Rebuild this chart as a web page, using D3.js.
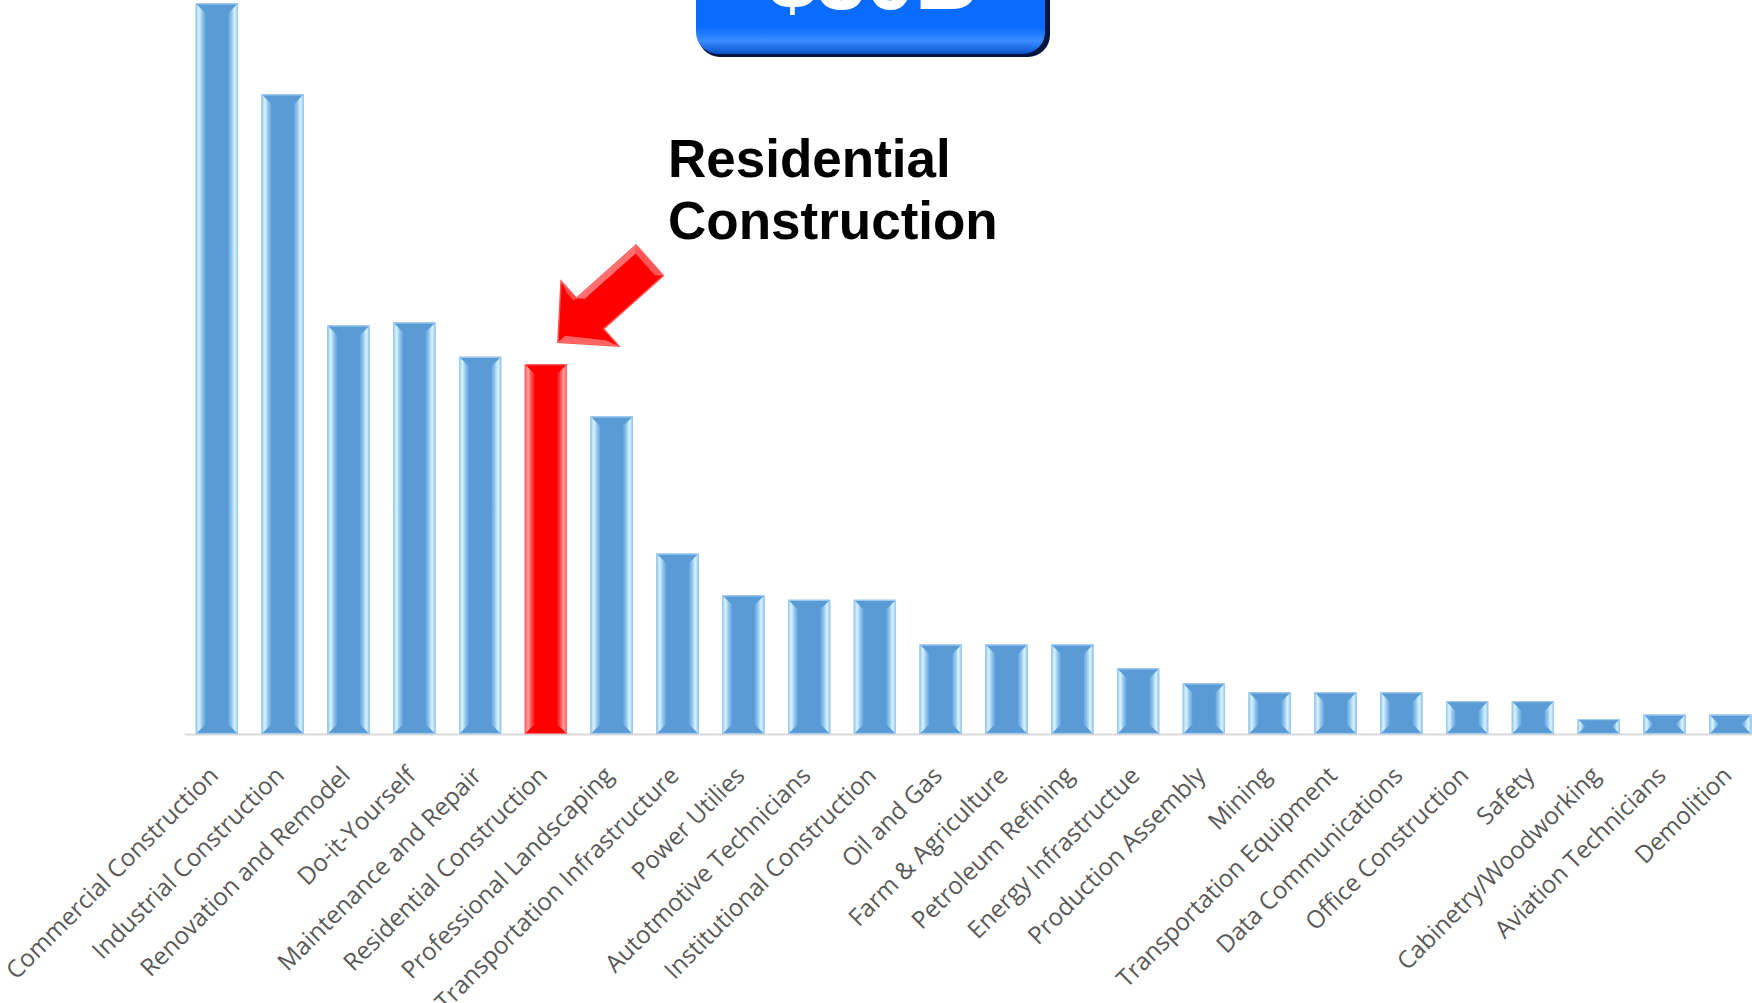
<!DOCTYPE html>
<html>
<head>
<meta charset="utf-8">
<script src="https://cdn.jsdelivr.net/npm/d3@7"></script>
<style>
  html, body { margin: 0; padding: 0; background: #ffffff; }
  svg { display: block; }
</style>
</head>
<body>
<svg id="chart" width="1752" height="1003"></svg>
<script>
// ---- data ----
const categories = [
  "Commercial Construction", "Industrial Construction", "Renovation and Remodel",
  "Do-it-Yourself", "Maintenance and Repair", "Residential Construction",
  "Professional Landscaping", "Transportation Infrastructure", "Power Utilies",
  "Autotmotive Technicians", "Institutional Construction", "Oil and Gas",
  "Farm & Agriculture", "Petroleum Refining", "Energy Infrastructue",
  "Production Assembly", "Mining", "Transportation Equipment",
  "Data Communications", "Office Construction", "Safety",
  "Cabinetry/Woodworking", "Aviation Technicians", "Demolition"
];
const values = [
  4.90, 4.29, 2.74, 2.76, 2.53, 2.48,
  2.13, 1.21, 0.93, 0.90, 0.90, 0.60,
  0.60, 0.60, 0.44, 0.34, 0.28, 0.28,
  0.28, 0.22, 0.22, 0.10, 0.13, 0.13
];
const highlighted = "Residential Construction";
const calloutLines = ["Residential", "Construction"];
const boxLabel = "$30B";

// ---- layout ----
const baseY = 734;
const svg = d3.select("#chart");
const defs = svg.append("defs");

const step = 65.8;
const x = d3.scaleBand()
  .domain(categories)
  .range([184, 184 + categories.length * step])
  .paddingInner(0.36)
  .paddingOuter(0.18);
const y = d3.scaleLinear().domain([0, 5]).range([baseY, baseY - 5 * 149.1]);

function sideGrad(id, stops) {
  const g = defs.append("linearGradient").attr("id", id)
    .attr("x1", "0%").attr("x2", "100%").attr("y1", "0%").attr("y2", "0%");
  stops.forEach(s => g.append("stop").attr("offset", s[0]).attr("stop-color", s[1]));
}
sideGrad("bL", [[0, "#9ccbf0"], [0.35, "#d6f3ff"], [0.7, "#8ec3ec"], [1, "#6aa8de"]]);
sideGrad("bR", [[0, "#6aa8de"], [0.3, "#8ec3ec"], [0.65, "#d6f3ff"], [1, "#9ccbf0"]]);
sideGrad("rL", [[0, "#ff5c5c"], [0.35, "#ffa0a0"], [0.7, "#ff4a4a"], [1, "#ff1a1a"]]);
sideGrad("rR", [[0, "#ff1a1a"], [0.3, "#ff4a4a"], [0.65, "#ffa0a0"], [1, "#ff5c5c"]]);

// axis with rotated labels
const axis = d3.axisBottom(x).tickSize(0).tickPadding(0);
const gAxis = svg.append("g").attr("transform", `translate(0,${baseY})`).call(axis);
gAxis.select(".domain").attr("stroke", "#d9d9d9").attr("stroke-width", 2);
gAxis.selectAll(".tick text")
  .attr("x", 0).attr("y", 0).attr("dy", 0)
  .attr("transform", "translate(3,43) rotate(-45)")
  .attr("text-anchor", "end")
  .attr("fill", "#595959")
  .style("font-family", "'Open Sans', sans-serif")
  .style("font-size", "24.3px");

// bars
const bars = svg.append("g").selectAll("g.bar")
  .data(categories.map((c, i) => ({ c, v: values[i] })))
  .join("g").attr("class", "bar");

bars.each(function (d) {
  const g = d3.select(this);
  const red = d.c === highlighted;
  const x0 = x(d.c), w = x.bandwidth(), x1 = x0 + w;
  const y0 = y(d.v), y1 = y(0);
  const h = y1 - y0;
  const b = Math.min(9.5, h / 2);
  g.append("rect").attr("x", x0).attr("y", y0).attr("width", w).attr("height", h)
    .attr("fill", red ? "#ff0000" : "#5b9bd5");
  g.append("path")
    .attr("d", `M${x0},${y0}L${x0 + b},${y0 + b}L${x0 + b},${y1 - b}L${x0},${y1}Z`)
    .attr("fill", red ? "url(#rL)" : "url(#bL)");
  g.append("path")
    .attr("d", `M${x1},${y0}L${x1 - b},${y0 + b}L${x1 - b},${y1 - b}L${x1},${y1}Z`)
    .attr("fill", red ? "url(#rR)" : "url(#bR)");
  g.append("rect").attr("x", x0 + 0.5).attr("y", y0 + 0.5).attr("width", w - 1).attr("height", h - 1)
    .attr("fill", "none").attr("stroke", red ? "#ff6a6a" : "#9fcbef").attr("stroke-width", 1.2);
});

// callout text
const callout = svg.append("text")
  .attr("x", 668).attr("y", 177)
  .attr("fill", "#000")
  .style("font-family", "'Liberation Sans', Arial, sans-serif")
  .style("font-weight", "bold")
  .style("font-size", "53px");
callout.selectAll("tspan").data(calloutLines).join("tspan")
  .attr("x", 668).attr("dy", (d, i) => i === 0 ? 0 : 62).text(d => d);

// arrow pointing at highlighted bar
const hx = x(highlighted) + x.bandwidth() / 2;
const hy = y(values[categories.indexOf(highlighted)]);
const tip = [hx + 12, hy - 22];
const ang = Math.atan2(-82, 92) * 180 / Math.PI;
const headL = 43, headW = 43.5, shaftW = 20.5, len = 123;
const arrowPts = [[0, 0], [headL, -headW], [headL, -shaftW], [len, -shaftW], [len, shaftW], [headL, shaftW], [headL, headW]];
const ga = svg.append("g").attr("transform", `translate(${tip[0]},${tip[1]}) rotate(${ang})`);
ga.append("polygon").attr("points", arrowPts.map(p => p.join(",")).join(" "))
  .attr("fill", "#ff0000").attr("stroke", "#ff5050").attr("stroke-width", 1.5);
const bv = 6;
ga.append("polygon")
  .attr("points", [[headL + bv, -shaftW + bv], [len - bv, -shaftW + bv], [len, -shaftW], [headL, -shaftW]].map(p => p.join(",")).join(" "))
  .attr("fill", "#ff8a8a").attr("opacity", 0.8);
ga.append("polygon")
  .attr("points", [[len - bv, -shaftW + bv], [len - bv, shaftW - bv], [len, shaftW], [len, -shaftW]].map(p => p.join(",")).join(" "))
  .attr("fill", "#ff6a6a").attr("opacity", 0.8);
ga.append("polygon")
  .attr("points", [[bv * 1.6, 0], [headL - bv, headW - bv * 2.2], [headL, headW], [0, 0]].map(p => p.join(",")).join(" "))
  .attr("fill", "#ff7a7a").attr("opacity", 0.8);
ga.append("polygon")
  .attr("points", [[headL - bv * 0.6, -headW + bv * 2.2], [headL - bv * 0.6, -shaftW], [headL, -shaftW], [headL, -headW]].map(p => p.join(",")).join(" "))
  .attr("fill", "#ff5a5a").attr("opacity", 0.8);

// blue value box at top (text intentionally runs off the top edge, as in the source)
const bg = defs.append("linearGradient").attr("id", "boxG")
  .attr("x1", "0%").attr("x2", "0%").attr("y1", "0%").attr("y2", "100%");
[[0, "#0a6cff"], [0.72, "#0a6cff"], [0.86, "#3b8dff"], [0.95, "#1a66e0"], [1, "#0b4fc4"]]
  .forEach(s => bg.append("stop").attr("offset", s[0]).attr("stop-color", s[1]));
svg.append("rect").attr("x", 698).attr("y", -40).attr("width", 352).attr("height", 97)
  .attr("rx", 22).attr("fill", "#00143d");
svg.append("rect").attr("x", 696).attr("y", -40).attr("width", 349).attr("height", 94)
  .attr("rx", 22).attr("fill", "url(#boxG)");
svg.append("text").attr("x", 873).attr("y", 9)
  .attr("text-anchor", "middle").attr("fill", "#ffffff")
  .style("font-family", "'Liberation Sans', Arial, sans-serif")
  .style("font-weight", "bold").style("font-size", "88px")
  .text(boxLabel);
</script>
</body>
</html>
